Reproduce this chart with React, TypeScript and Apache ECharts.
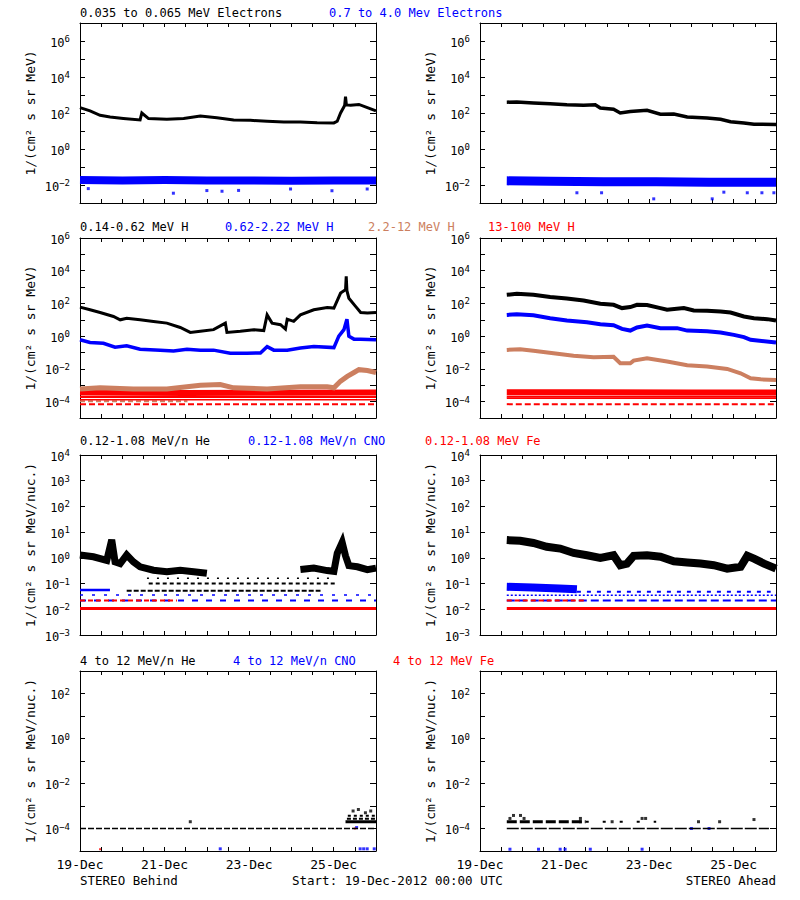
import React, { useEffect, useRef } from 'react';
import * as echarts from 'echarts';

type P = [number, number];

const BLACK = '#000000';
const BLUE = '#0000ff';
const BROWN = '#cc7f60';
const RED = '#ff0000';
const FONT = 'DejaVu Sans Mono';

// x axis: hours since 19-Dec-2012 00:00 UTC
const tickHours = [0, 48, 96, 144];
const tickLabels = ['19-Dec', '21-Dec', '23-Dec', '25-Dec'];

// ---- Row 1: electrons ----
const elecLowBehind: P[] = [[0,200],[5.7,130],[11.4,74],[17.1,60],[24.6,50],[34.1,41],[35.1,100],[38.9,49],[49.3,45],[58.8,50],[68.3,68],[77.7,55],[87.2,41],[96.7,39],[106.2,35],[115.7,32],[125.1,32],[134.6,29],[144.1,28],[146,35],[147.9,100],[150.2,260],[150.7,800],[151.2,280],[153.6,270],[158.3,300],[163.1,200],[168,130]];
const elecHighBehind: P[] = [[0,0.019],[24,0.018],[48,0.019],[72,0.018],[96,0.018],[120,0.017],[144,0.018],[168,0.018]];
const elecHighBehindOut: P[] = [[4.7,0.0063],[53,0.0035],[72,0.0049],[80.6,0.0045],[90,0.005],[119.5,0.006],[143,0.0048],[163,0.006]];
const elecLowAhead: P[] = [[15.2,400],[20.9,410],[30.3,360],[39.8,330],[49.3,290],[58.8,270],[65.4,290],[68.3,190],[75.8,160],[79.6,100],[85.3,120],[94.8,140],[102.4,85],[110,88],[117.6,60],[128.9,53],[136.5,45],[142.2,33],[149.8,28],[155.5,24],[168,23]];
const elecHighAhead: P[] = [[15.2,0.017],[40,0.016],[70,0.015],[100,0.015],[130,0.014],[168,0.014]];
const elecHighAheadOut: P[] = [[55,0.0037],[69,0.0037],[98.6,0.0017],[131.8,0.0017],[138.4,0.004],[151.7,0.0037],[160,0.0037],[166.8,0.0037]];

// ---- Row 2: protons ----
const h1Behind: P[] = [[0,60],[5.7,41],[11.4,28],[19,16],[22.8,10],[26.5,12.6],[34.1,10],[41.7,8],[49.3,6.3],[56.9,3.4],[62.6,1.7],[68.3,2],[75.8,2.5],[82.5,6.3],[83.4,1.7],[91,2],[98.6,2.5],[104.3,2.2],[106.2,20],[109,6.3],[113.8,5],[116.6,2.7],[117.6,11],[121.3,8],[125.1,20],[132.7,41],[140.3,57],[144.1,52],[147.9,430],[150.7,690],[151.1,4500],[151.5,600],[152.6,210],[156.4,66],[159.3,28],[163.1,26],[168,28]];
const h2Behind: P[] = [[0,0.6],[5.7,0.41],[13.3,0.37],[19.9,0.21],[26.5,0.26],[34.1,0.16],[45.5,0.14],[53.1,0.125],[60.7,0.16],[68.3,0.14],[75.8,0.14],[85.3,0.09],[94.8,0.09],[102.4,0.095],[106.2,0.23],[110,0.14],[117.6,0.14],[125.1,0.19],[132.7,0.23],[144.1,0.2],[146.9,1.0],[149.8,2.5],[151.5,11],[152.1,3],[152.6,1],[155.5,0.66],[159.3,0.66],[168,0.6]];
const h3Behind: P[] = [[0,6e-4],[11.4,7e-4],[30.3,6e-4],[49.3,6e-4],[60.7,8e-4],[68.3,1e-3],[79.6,1.1e-3],[87.2,7e-4],[106.2,6e-4],[125.1,8e-4],[140.3,8e-4],[144.1,7e-4],[147.9,1.8e-3],[151.7,3.5e-3],[155.5,6e-3],[158.3,9e-3],[163.1,8e-3],[168,6e-3]];
const h3BehindLow: P[] = [[0,1.05e-4],[61,1.05e-4]];
const h4BehindBand: P[] = [[0,3.6e-4],[60,3.4e-4],[120,3.5e-4],[168,3.6e-4]];
const h4BehindL1: P[] = [[0,1.9e-4],[168,1.9e-4]];
const h4BehindL2: P[] = [[0,1.3e-4],[168,1.3e-4]];
const h4BehindL3: P[] = [[0,7e-5],[168,7e-5]];
const h1Ahead: P[] = [[15.2,340],[20.9,390],[30.3,340],[39.8,245],[49.3,200],[58.8,150],[68.3,95],[75.8,83],[80.6,52],[85.3,60],[89.1,83],[94.8,80],[102.4,52],[106.2,41],[115.7,52],[121.3,37],[128.9,36],[136.5,32],[142.2,28],[149.8,16],[155.5,12.6],[163.1,11],[168,9]];
const h2Ahead: P[] = [[15.2,20],[20.9,22],[30.3,19],[39.8,12.6],[49.3,9],[60.7,7.2],[68.3,5.4],[75.8,4.7],[80.6,2.8],[85.3,2.2],[89.1,3.4],[94.8,4.5],[102.4,3.1],[111.9,3.1],[117.6,2.2],[128.9,2],[136.5,1.7],[144.1,1.2],[149.8,0.87],[153.6,0.6],[168,0.41]];
const h3Ahead: P[] = [[15.2,0.145],[22.8,0.16],[30.3,0.13],[41.7,0.09],[53.1,0.063],[64.5,0.051],[75.8,0.055],[79.6,0.022],[85.3,0.022],[87.2,0.032],[94.8,0.045],[106.2,0.028],[117.6,0.017],[128.9,0.014],[140.3,0.01],[147.9,0.0054],[153.6,0.0027],[159.3,0.0023],[168,0.0021]];
const h4AheadBand: P[] = [[15.2,3.8e-4],[60,3.7e-4],[120,3.6e-4],[168,3.6e-4]];
const h4AheadL1: P[] = [[15.2,2.0e-4],[168,2.0e-4]];
const h4AheadL2: P[] = [[15.2,1.6e-4],[168,1.6e-4]];
const h4AheadL3: P[] = [[15.2,7e-5],[168,7e-5]];

// ---- Row 3: 0.12-1.08 MeV/n ions ----
const heLowBehindA: P[] = [[0,1.3],[7.6,1.1],[15.2,0.8],[18,5],[19.9,0.7],[22.8,0.6],[26.5,1.3],[30.3,0.7],[34.1,0.45],[41.7,0.33],[49.3,0.29],[56.9,0.33],[64.5,0.29],[72,0.25]];
const heLowBehindB: P[] = [[125.1,0.35],[132.7,0.4],[140.3,0.32],[144.1,0.3],[146,1.5],[148.8,4],[150.7,1.2],[152.6,0.5],[157.4,0.45],[163.1,0.35],[168,0.4]];
const heLowBehindF1: P[] = [[38,0.16],[144,0.16]];
const heLowBehindF2: P[] = [[39,0.1],[146,0.1]];
const heLowBehindF3: P[] = [[26.5,0.052],[136.5,0.052]];
const cnoLowBehind1: P[] = [[0,0.056],[17,0.056]];
const cnoLowBehind2: P[] = [[0,0.036],[168,0.036]];
const cnoLowBehind3: P[] = [[0,0.022],[168,0.022]];
const feLowBehind1: P[] = [[0,0.022],[55,0.022]];
const feLowBehind2: P[] = [[0,0.0107],[168,0.0107]];
const heLowAhead: P[] = [[15.2,4.9],[22.8,4.6],[30.3,3.8],[37.9,2.7],[45.5,2.3],[53.1,1.55],[60.7,1.26],[68.3,1.0],[75.8,1.26],[79.6,0.52],[83.4,0.6],[87.2,1.2],[94.8,1.26],[102.4,1.1],[110,0.74],[117.6,0.66],[125.1,0.6],[132.7,0.52],[140.3,0.38],[147.9,0.45],[151.7,1.2],[155.5,0.93],[161.2,0.6],[168,0.38]];
const cnoLowAhead1: P[] = [[15.2,0.075],[30,0.07],[45,0.065],[55,0.06]];
const cnoLowAhead2: P[] = [[55,0.048],[165,0.048]];
const cnoLowAhead3: P[] = [[15.2,0.035],[168,0.035]];
const cnoLowAhead4: P[] = [[15.2,0.022],[168,0.022]];
const feLowAhead1: P[] = [[15.2,0.022],[60,0.022]];
const feLowAhead2: P[] = [[15.2,0.0107],[168,0.0107]];

// ---- Row 4: 4-12 MeV/n ions ----
const heHighBehindBase: P[] = [[0,1e-4],[168,1e-4]];
const heHighBehindC1: P[] = [[150.7,2e-4],[168,2e-4]];
const heHighBehindC2: P[] = [[151.5,2.7e-4],[168,2.7e-4]];
const heHighBehindC3: P[] = [[152,3.7e-4],[168,3.7e-4]];
const heHighBehindDots: P[] = [[62.6,2e-4],[155,6e-4],[158,7e-4],[162,5e-4],[165,6e-4]];
const cnoHighBehindDots: P[] = [[79.6,1.25e-5],[157,1.1e-4],[159,1.25e-5],[161,1.25e-5],[163,1.25e-5],[167,1.25e-5]];
const feHighBehindDots: P[] = [[11.4,1.2e-5],[156,1e-4]];
const heHighAheadBase: P[] = [[15.2,1e-4],[164,1e-4]];
const heHighAheadC1: P[] = [[15.2,2e-4],[60,2e-4]];
const heHighAheadC2: P[] = [[60,2e-4],[100,2e-4]];
const heHighAheadDots: P[] = [[17,2.8e-4],[19,3.8e-4],[23,3.8e-4],[25,2.8e-4],[57,2.8e-4],[57,2e-4],[75,2e-4],[92,2.8e-4],[94,2.8e-4],[124,2e-4],[136,2e-4],[155.5,2.5e-4]];
const cnoHighAheadDots: P[] = [[17,1.2e-5],[33.2,1.2e-5],[45.5,1.2e-5],[48.3,1.2e-5],[62.6,1.2e-5],[92,1.2e-5],[120,1e-4],[130,1e-4]];

const rows = [
  { top: 23, min: 1e-3, max: 1e7, step: 2, name: '1/(cm² s sr MeV)', titleTop: 7 },
  { top: 238, min: 1e-5, max: 1e6, step: 2, name: '1/(cm² s sr MeV)', titleTop: 220.5 },
  { top: 455, min: 1e-3, max: 1e4, step: 1, name: '1/(cm² s sr MeV/nuc.)', titleTop: 435 },
  { top: 671, min: 1e-5, max: 1e3, step: 2, name: '1/(cm² s sr MeV/nuc.)', titleTop: 654.5 },
];
const colLefts = [80, 480];
const PW = 296;
const PH = 180;

const titles: [string, string, number, number][] = [
  ['0.035 to 0.065 MeV Electrons', BLACK, 80, 0],
  ['0.7 to 4.0 Mev Electrons', BLUE, 329, 0],
  ['0.14-0.62 MeV H', BLACK, 80, 1],
  ['0.62-2.22 MeV H', BLUE, 225, 1],
  ['2.2-12 MeV H', BROWN, 368, 1],
  ['13-100 MeV H', RED, 488, 1],
  ['0.12-1.08 MeV/n He', BLACK, 80, 2],
  ['0.12-1.08 MeV/n CNO', BLUE, 248, 2],
  ['0.12-1.08 MeV Fe', RED, 425, 2],
  ['4 to 12 MeV/n He', BLACK, 80, 3],
  ['4 to 12 MeV/n CNO', BLUE, 233, 3],
  ['4 to 12 MeV Fe', RED, 393, 3],
];

type S = { g: number; data: P[]; color: string; w: number; dash?: number[]; dots?: boolean };
const seriesDefs: S[] = [
  // row 1
  { g: 0, data: elecLowBehind, color: BLACK, w: 3 },
  { g: 0, data: elecHighBehind, color: BLUE, w: 8 },
  { g: 0, data: elecHighBehindOut, color: BLUE, w: 3, dots: true },
  { g: 1, data: elecLowAhead, color: BLACK, w: 3.5 },
  { g: 1, data: elecHighAhead, color: BLUE, w: 9 },
  { g: 1, data: elecHighAheadOut, color: BLUE, w: 3, dots: true },
  // row 2
  { g: 2, data: h3BehindLow, color: BROWN, w: 2, dash: [5, 3] },
  { g: 2, data: h4BehindL3, color: RED, w: 2, dash: [6, 3] },
  { g: 2, data: h4BehindL2, color: RED, w: 1.5 },
  { g: 2, data: h4BehindL1, color: RED, w: 2 },
  { g: 2, data: h4BehindBand, color: RED, w: 6 },
  { g: 2, data: h3Behind, color: BROWN, w: 5 },
  { g: 2, data: h2Behind, color: BLUE, w: 3.5 },
  { g: 2, data: h1Behind, color: BLACK, w: 3 },
  { g: 3, data: h4AheadL3, color: RED, w: 2, dash: [6, 3] },
  { g: 3, data: h4AheadL2, color: RED, w: 1.5 },
  { g: 3, data: h4AheadL1, color: RED, w: 2 },
  { g: 3, data: h4AheadBand, color: RED, w: 6 },
  { g: 3, data: h3Ahead, color: BROWN, w: 4 },
  { g: 3, data: h2Ahead, color: BLUE, w: 4 },
  { g: 3, data: h1Ahead, color: BLACK, w: 4 },
  // row 3
  { g: 4, data: feLowBehind2, color: RED, w: 3 },
  { g: 4, data: cnoLowBehind3, color: BLUE, w: 2, dash: [6, 8] },
  { g: 4, data: feLowBehind1, color: RED, w: 2, dash: [5, 3] },
  { g: 4, data: cnoLowBehind2, color: BLUE, w: 1.5, dash: [3, 9] },
  { g: 4, data: cnoLowBehind1, color: BLUE, w: 2.5 },
  { g: 4, data: heLowBehindF3, color: BLACK, w: 2, dash: [5, 2] },
  { g: 4, data: heLowBehindF2, color: BLACK, w: 2, dash: [4, 3] },
  { g: 4, data: heLowBehindF1, color: BLACK, w: 1.5, dash: [2, 8] },
  { g: 4, data: heLowBehindA, color: BLACK, w: 7 },
  { g: 4, data: heLowBehindB, color: BLACK, w: 7 },
  { g: 5, data: feLowAhead2, color: RED, w: 3 },
  { g: 5, data: cnoLowAhead4, color: BLUE, w: 2, dash: [8, 4] },
  { g: 5, data: feLowAhead1, color: RED, w: 2, dash: [5, 3] },
  { g: 5, data: cnoLowAhead3, color: BLUE, w: 1.5, dash: [2, 2] },
  { g: 5, data: cnoLowAhead2, color: BLUE, w: 2, dash: [4, 6] },
  { g: 5, data: cnoLowAhead1, color: BLUE, w: 8 },
  { g: 5, data: heLowAhead, color: BLACK, w: 8 },
  // row 4
  { g: 6, data: heHighBehindBase, color: BLACK, w: 1.5, dash: [6, 2] },
  { g: 6, data: heHighBehindC1, color: BLACK, w: 3 },
  { g: 6, data: heHighBehindC2, color: BLACK, w: 2, dash: [4, 2] },
  { g: 6, data: heHighBehindC3, color: BLACK, w: 2, dash: [3, 3] },
  { g: 6, data: heHighBehindDots, color: BLACK, w: 3, dots: true },
  { g: 6, data: cnoHighBehindDots, color: BLUE, w: 3, dots: true },
  { g: 6, data: feHighBehindDots, color: RED, w: 2, dots: true },
  { g: 7, data: heHighAheadBase, color: BLACK, w: 1.5, dash: [12, 2] },
  { g: 7, data: heHighAheadC1, color: BLACK, w: 3, dash: [10, 3] },
  { g: 7, data: heHighAheadC2, color: BLACK, w: 2, dash: [3, 14] },
  { g: 7, data: heHighAheadDots, color: BLACK, w: 3, dots: true },
  { g: 7, data: cnoHighAheadDots, color: BLUE, w: 3, dots: true },
];

function expLabel(step: number) {
  return (v: number) => {
    const e = Math.round(Math.log10(v));
    if (e % step !== 0) return '';
    const s = e < 0 ? '−' + -e : String(e);
    return `{b|10}{e|${s}}`;
  };
}

export default function App() {
  const ref = useRef<HTMLDivElement>(null);
  useEffect(() => {
    if (!ref.current) return;
    const chart = echarts.init(ref.current, undefined, { renderer: 'svg' });
    const grid: any[] = [];
    const xAxis: any[] = [];
    const yAxis: any[] = [];
    rows.forEach((r, ri) => {
      colLefts.forEach((left, ci) => {
        const last = ri === rows.length - 1;
        grid.push({ left, top: r.top, width: PW, height: PH, containLabel: false });
        const gi = ri * 2 + ci;
        const xBase = {
          type: 'value', gridIndex: gi, min: 0, max: 168, interval: 12,
          splitLine: { show: false },
          axisLine: { show: true, onZero: false, lineStyle: { color: BLACK, width: 1 } },
          axisTick: { show: true, inside: true, length: 4, lineStyle: { color: BLACK } },
        };
        xAxis.push({
          ...xBase, position: 'bottom',
          axisLabel: {
            show: last, margin: 7, color: BLACK, fontFamily: FONT, fontSize: 13,
            formatter: (v: number) => { const i = tickHours.indexOf(v); return i >= 0 ? tickLabels[i] : ''; },
          },
        });
        xAxis.push({ ...xBase, position: 'top', axisLabel: { show: false } });
        const yBase = {
          type: 'log', logBase: 10, gridIndex: gi, min: r.min, max: r.max, interval: 1,
          splitLine: { show: false },
          axisLine: { show: true, onZero: false, lineStyle: { color: BLACK, width: 1 } },
          axisTick: { show: true, inside: true, length: 5, lineStyle: { color: BLACK } },
        };
        yAxis.push({
          ...yBase, position: 'left',
          name: r.name, nameLocation: 'middle', nameRotate: 90, nameGap: 43,
          nameTextStyle: { color: BLACK, fontFamily: FONT, fontSize: 13 },
          axisLabel: {
            show: true, margin: 10, color: BLACK, formatter: expLabel(r.step),
            rich: {
              b: { fontFamily: FONT, fontSize: 12, color: BLACK, verticalAlign: 'top', padding: [3, 0, 0, 0] },
              e: { fontFamily: FONT, fontSize: 9, color: BLACK, verticalAlign: 'top', padding: [1, 0, 0, 0] },
            },
          },
        });
        yAxis.push({ ...yBase, position: 'right', axisLabel: { show: false }, axisTick: { ...yBase.axisTick, length: 6 } });
      });
    });

    const series = seriesDefs.map((s) => s.dots
      ? {
          type: 'scatter', xAxisIndex: s.g * 2, yAxisIndex: s.g * 2, data: s.data,
          symbol: 'rect', symbolSize: s.w, itemStyle: { color: s.color }, silent: true,
        }
      : {
          type: 'line', xAxisIndex: s.g * 2, yAxisIndex: s.g * 2, data: s.data,
          symbol: 'none', silent: true,
          lineStyle: { color: s.color, width: s.w, type: s.dash ? s.dash : 'solid', join: 'miter' },
        });

    const graphic: any[] = titles.map(([t, c, x, ri]) => ({
      type: 'text', left: x, top: rows[ri].titleTop, silent: true,
      style: { text: t, fill: c, font: `12px "${FONT}"`, lineHeight: 12 },
    }));
    graphic.push(
      { type: 'text', left: 80, top: 874, style: { text: 'STEREO Behind', fill: BLACK, font: `12.5px "${FONT}"` } },
      { type: 'text', left: 292, top: 874, style: { text: 'Start: 19-Dec-2012 00:00 UTC', fill: BLACK, font: `12.5px "${FONT}"` } },
      { type: 'text', right: 24, top: 874, style: { text: 'STEREO Ahead', fill: BLACK, font: `12.5px "${FONT}"` } },
    );

    chart.setOption({
      animation: false,
      backgroundColor: '#ffffff',
      grid, xAxis, yAxis, series, graphic,
    });
    return () => chart.dispose();
  }, []);
  return <div ref={ref} style={{ position: 'fixed', left: 0, top: 0, width: 800, height: 900, background: '#fff' }} />;
}
